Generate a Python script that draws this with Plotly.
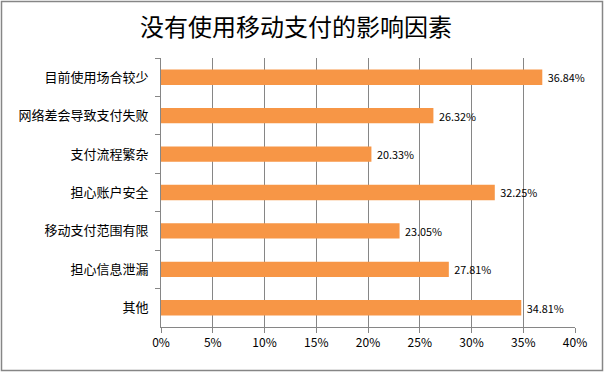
import plotly.graph_objects as go

categories = ["目前使用场合较少", "网络差会导致支付失败", "支付流程繁杂", "担心账户安全",
              "移动支付范围有限", "担心信息泄漏", "其他"]
values = [36.84, 26.32, 20.33, 32.25, 23.05, 27.81, 34.81]
labels = ["36.84%", "26.32%", "20.33%", "32.25%", "23.05%", "27.81%", "34.81%"]
x_ticks = [0, 5, 10, 15, 20, 25, 30, 35, 40]
x_tick_text = ["0%", "5%", "10%", "15%", "20%", "25%", "30%", "35%", "40%"]
title = "没有使用移动支付的影响因素"

W, H = 604, 373
L, R, T, B = 161, 29, 58, 46
pw, ph = W - L - R, H - T - B

def px(x):
    return (x - L) / pw

def py(y):
    return (H - B - y) / ph

font = "Noto Sans CJK SC, Microsoft YaHei, sans-serif"

fig = go.Figure(go.Bar(
    y=categories, x=values, orientation="h",
    marker=dict(color="#F79646", line=dict(width=0)),
    text=["\u00a0" + t for t in labels], textposition="outside", cliponaxis=False,
    textfont=dict(size=12, color="#000000", family=font),
    hoverinfo="skip",
))

fig.update_layout(
    width=W, height=H,
    margin=dict(l=L, r=R, t=T, b=B, autoexpand=False),
    paper_bgcolor="white", plot_bgcolor="white",
    bargap=0.6,
    showlegend=False,
    title=dict(text=title, x=296 / W, xanchor="center",
               y=1 - 28 / H, yanchor="middle",
               font=dict(size=24, color="#000000", family=font)),
    xaxis=dict(range=[0, 40], tickvals=x_ticks, ticktext=x_tick_text,
               showgrid=True, gridcolor="#868686", gridwidth=1,
               showline=True, linecolor="#868686", linewidth=1,
               ticks="outside", ticklen=5, tickcolor="#868686",
               tickfont=dict(size=12, color="#000000", family=font),
               zeroline=False),
    yaxis=dict(categoryorder="array", categoryarray=categories, autorange="reversed",
               showline=True, linecolor="#868686", linewidth=1,
               ticks="outside", ticklen=5, tickcolor="#868686", tickson="boundaries",
               tickfont=dict(size=13, color="#000000", family=font),
               ticklabelstandoff=9, showgrid=False),
    shapes=[dict(type="rect", xref="paper", yref="paper",
                 x0=px(1.5), x1=px(602.5), y0=py(1.5), y1=py(370.5),
                 line=dict(color="#868686", width=1.5), fillcolor="rgba(0,0,0,0)")],
)

fig.write_html("out.html", config={"displayModeBar": False, "staticPlot": True},
               post_script="document.body.style.margin='0';document.body.style.padding='0';")
